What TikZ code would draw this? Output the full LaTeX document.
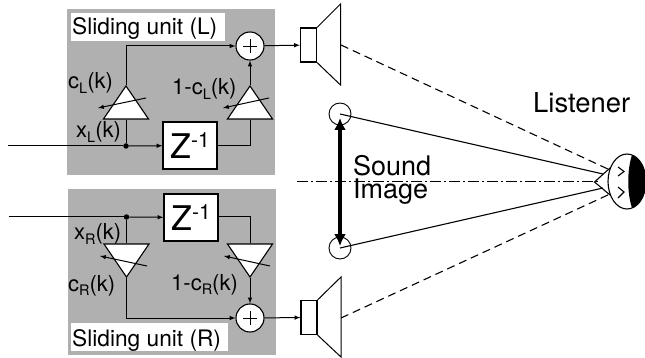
\documentclass[tikz,border=0pt]{standalone}
\usepackage{fontspec}
\setmainfont{TeX Gyre Heros}
\usetikzlibrary{arrows,arrows.meta}
\usetikzlibrary{shapes.geometric}
\definecolor{GrisUnit}{gray}{.69}
\newcommand{\lowidx}[1]{\raisebox{-4.5pt}{\fontsize{14.5}{14.5}\selectfont #1}}
\newcommand{\zinv}{Z\raisebox{11pt}{\fontsize{21}{21}\selectfont -1}}
\tikzstyle{fil}     =[line width=1pt, >=latex]
\tikzstyle{unit}    =[fill=GrisUnit, draw=none, anchor=north west, inner sep=0pt]
\tikzstyle{titre}   =[fill=white, anchor=north west, inner sep=0pt, text height=0pt]
\tikzstyle{lab}     =[anchor=base west, inner sep=0pt, font=\fontsize{22}{22}\selectfont]
\tikzstyle{retard}  =[draw, fill=white, line width=1.1pt, minimum width=54pt, minimum height=47pt, inner sep=0pt, font=\fontsize{34}{34}\selectfont]
\tikzstyle{somme}   =[draw, circle, fill=white, line width=1.1pt, minimum size=28pt, inner sep=0pt,
  path picture={\draw[line width=.8pt] ([xshift=-7pt]path picture bounding box.center) -- ([xshift=7pt]path picture bounding box.center);
  \draw[line width=.8pt] ([yshift=-7pt]path picture bounding box.center) -- ([yshift=7pt]path picture bounding box.center);}]
\tikzstyle{gain}    =[draw, fill=white, line width=1.1pt, isosceles triangle, isosceles triangle apex angle=69, isosceles triangle stretches, minimum width=45pt, minimum height=33pt, inner sep=0pt, anchor=apex]
\tikzstyle{hp}      =[draw, fill=white, line width=1.1pt, minimum width=16pt, minimum height=34pt, inner sep=0pt]
\tikzstyle{point}   =[circle, fill=black, inner sep=0pt, minimum size=5.5pt]
\tikzstyle{image}   =[draw, circle, line width=.9pt, minimum size=22pt, inner sep=0pt]
\begin{document}
\begin{tikzpicture}[x=1pt,y=-1pt]
 \useasboundingbox (0,0) rectangle (645,358);
 % sliding unit L
 \node[unit, minimum width=208pt, minimum height=166pt] (unitL) at (67,9) {};
 \node[titre, minimum width=154pt, minimum height=28pt] (titreL) at (71,13) {};
 \node[lab, font=\fontsize{22.7}{22.7}\selectfont] (txtL) at (72,35) {Sliding unit (L)};
 \node[somme] (sumL) at (250,46) {};
 \node[retard] (zL) at (190,145.5) {\zinv};
 \node[gain, shape border rotate=90] (gainLa) at (126,85) {};
 \node[gain, shape border rotate=90] (gainLb) at (250,85) {};
 \node[point] (dotL) at (126,146) {};
 \node[hp] (hpL) at (308.5,45) {};
 \coordinate (inL) at (8,146);
 \coordinate (elbLa) at (126,46);
 \coordinate (elbLb) at (250,146);
 \coordinate (coneLa) at (340.5,4);
 \coordinate (coneLb) at (340.5,85);
 \coordinate (frontL) at (341,45);
 \draw[fil] (inL) -- (dotL);
 \draw[fil,->] (dotL) -- (zL);
 \draw[fil] (dotL) -- (gainLa.lower side);
 \draw[fil,->] (gainLa.apex) -- (elbLa) -- (sumL);
 \draw[fil] (zL.east |- elbLb) -- (elbLb) -- (gainLb.lower side);
 \draw[fil,->] (gainLb.apex) -- (sumL);
 \draw[fil,->] (sumL) -- (hpL);
 \draw[fil,->] (146,98) -- (98,108);
 \draw[fil,->] (269,98) -- (223,108);
 \draw[fil] (hpL.north east) -- (coneLa) -- (coneLb) -- (hpL.south east);
 \node[lab] (cL) at (68,89) {c\lowidx{L}(k)};
 \node[lab] (dL) at (172,95) {1-c\lowidx{L}(k)};
 \node[lab] (xL) at (76,138) {x\lowidx{L}(k)};
 % sliding unit R
 \node[unit, minimum width=208pt, minimum height=166pt] (unitR) at (68,189) {};
 \node[titre, minimum width=157pt, minimum height=28pt] (titreR) at (71,323) {};
 \node[lab, font=\fontsize{22.7}{22.7}\selectfont] (txtR) at (72,346) {Sliding unit (R)};
 \node[somme] (sumR) at (250,318) {};
 \node[retard] (zR) at (191,217.5) {\zinv};
 \node[gain, shape border rotate=270] (gainRa) at (126.5,278) {};
 \node[gain, shape border rotate=270] (gainRb) at (250,278) {};
 \node[point] (dotR) at (126.5,217) {};
 \node[hp] (hpR) at (309,317.5) {};
 \coordinate (inR) at (9,217);
 \coordinate (elbRa) at (126.5,318);
 \coordinate (elbRb) at (250,217);
 \coordinate (coneRa) at (341,277);
 \coordinate (coneRb) at (341,357);
 \coordinate (frontR) at (341,318);
 \draw[fil] (inR) -- (dotR);
 \draw[fil,->] (dotR) -- (zR);
 \draw[fil] (dotR) -- (gainRa.lower side);
 \draw[fil,->] (gainRa.apex) -- (elbRa) -- (sumR);
 \draw[fil] (zR.east |- elbRb) -- (elbRb) -- (gainRb.lower side);
 \draw[fil,->] (gainRb.apex) -- (sumR);
 \draw[fil,->] (sumR) -- (hpR);
 \draw[fil,->] (147,266) -- (100,256);
 \draw[fil,->] (270,266) -- (224,256);
 \draw[fil] (hpR.north east) -- (coneRa) -- (coneRb) -- (hpR.south east);
 \node[lab] (cR) at (68,291) {c\lowidx{R}(k)};
 \node[lab] (dR) at (171,290) {1-c\lowidx{R}(k)};
 \node[lab] (xR) at (74,240) {x\lowidx{R}(k)};
 % sound image and listener
 \coordinate (axeA) at (297,181.5);
 \coordinate (axeB) at (600,181.5);
 \coordinate (earA) at (610,170);
 \coordinate (earB) at (610,194);
 \coordinate (noseA) at (603,174);
 \coordinate (noseB) at (603,188);
 \coordinate (flecheA) at (340,118);
 \coordinate (flecheB) at (340,246);
 \draw[line width=.9pt, dash pattern=on 11pt off 3pt on 2pt off 3pt] (axeA) -- (axeB);
 \node[image] (imgA) at (340,114) {};
 \node[image] (imgB) at (340,248) {};
 \draw[line width=1.1pt] (imgA.center) -- (noseA);
 \draw[line width=1.1pt] (imgB.center) -- (noseB);
 \draw[line width=1.1pt, dash pattern=on 8pt off 5pt] (frontL) -- (earA);
 \draw[line width=1.1pt, dash pattern=on 8pt off 5pt] (frontR) -- (earB);
 \draw[line width=3.4pt, {Latex[length=12pt,width=12pt]}-{Latex[length=12pt,width=12pt]}] (flecheA) -- (flecheB);
 \node[anchor=base west, inner sep=0pt, align=left, font=\fontsize{27}{23}\selectfont] (txtImg) at (353,199) {Sound\\Image};
 \node[anchor=base west, inner sep=0pt, font=\fontsize{27.4}{27}\selectfont] (txtEcoute) at (533,113) {Listener};
 % head
 \node[draw, ellipse, line width=1.1pt, minimum width=38pt, minimum height=55pt, inner sep=0pt] (tete) at (627,181.5) {};
 \fill (632,155) .. controls (627,170) and (627,193) .. (632,208) .. controls (640,206) and (646,195) .. (646,181.5) .. controls (646,168) and (640,157) .. (632,155) -- cycle;
 \draw[line width=1.1pt] (610,168) -- (594.5,182) -- (610,195);
 \draw[line width=1.1pt] (618,167) -- (624,171.5) -- (618,176);
 \draw[line width=1.1pt] (618,187) -- (624,192) -- (618,198);
\end{tikzpicture}
\end{document}
